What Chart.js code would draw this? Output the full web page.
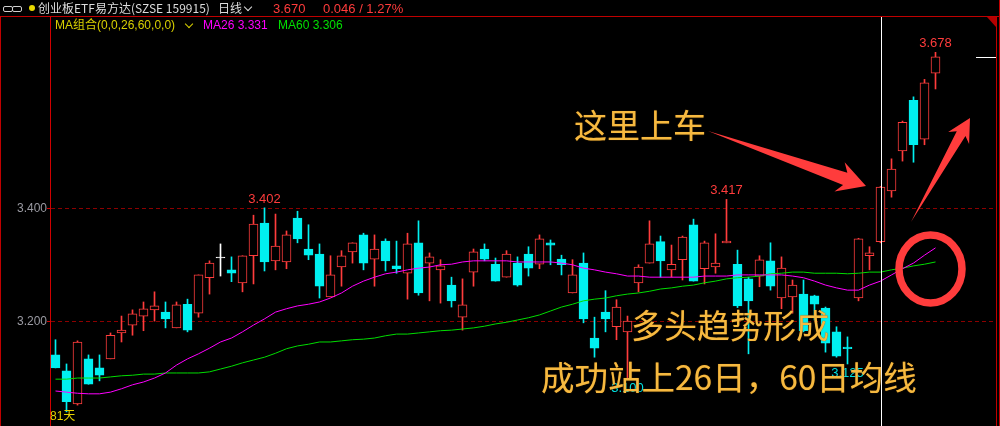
<!DOCTYPE html>
<html><head><meta charset="utf-8">
<script src="https://cdn.jsdelivr.net/npm/chart.js@4/dist/chart.umd.min.js"></script>
<style>
html,body{margin:0;padding:0;background:#000;width:1000px;height:426px;overflow:hidden;}
#wrap{position:relative;width:1000px;height:426px;background:#000;}
#c{position:absolute;left:0;top:0;}
.t{position:absolute;white-space:nowrap;font-family:"Liberation Sans",Arial,"Noto Sans CJK SC",sans-serif;line-height:1;}
.cjk{font-family:"Noto Sans CJK SC","Liberation Sans",sans-serif;}
.big{position:absolute;white-space:nowrap;font-family:"Noto Sans CJK SC",sans-serif;color:#f6b940;line-height:1;text-shadow:0 0 1px #7a4a00;}
.chev{position:absolute;width:5px;height:5px;border-right:1.5px solid;border-bottom:1.5px solid;transform:rotate(45deg);}
</style></head>
<body>
<div id="wrap">
<canvas id="c" width="1000" height="426"></canvas>
<!-- header row 1 -->
<div style="position:absolute;left:3px;top:6px;width:8px;height:4px;border:1px solid #cfcfcf;border-radius:2px;"></div>
<div style="position:absolute;left:12px;top:6px;width:8px;height:4px;border:1px solid #cfcfcf;border-radius:2px;"></div>
<div style="position:absolute;left:29px;top:5px;width:6px;height:6px;border-radius:50%;background:#e8d800;"></div>
<div class="t cjk" style="left:38px;top:2px;font-size:12px;color:#dcdcdc;">创业板ETF易方达(SZSE 159915)</div>
<div class="t cjk" style="left:218px;top:2px;font-size:12px;color:#dcdcdc;">日线</div>
<div class="chev" style="left:245px;top:4px;color:#dcdcdc;"></div>
<div class="t" style="left:273px;top:2px;font-size:13px;color:#ff3c3c;">3.670</div>
<div class="t" style="left:323px;top:2px;font-size:13px;color:#ff3c3c;">0.046 / 1.27%</div>
<!-- header row 2 -->
<div class="t" style="left:55px;top:19px;font-size:12px;color:#d8d000;">MA组合(0,0,26,60,0,0)</div>
<div class="chev" style="left:186px;top:21px;color:#d8d000;"></div>
<div class="t" style="left:203px;top:19px;font-size:12px;color:#ff00ff;">MA26 3.331</div>
<div class="t" style="left:278px;top:19px;font-size:12px;color:#00e000;">MA60 3.306</div>
<div class="t" style="left:50px;top:410px;font-size:12px;color:#e6d200;">81天</div>
<!-- annotations -->
<div class="big" style="left:574px;top:108px;font-size:33px;">这里上车</div>
<div class="big" style="left:631px;top:308px;font-size:33px;">多头趋势形成</div>
<div class="big" style="left:541px;top:359px;font-size:33.5px;">成功站上26日，60日均线</div>
</div>
<script>
// ---- data ----
const opens  = [3.141,3.113,3.054,3.134,3.118,3.134,3.180,3.194,3.210,3.221,
                3.217,3.189,3.231,3.215,3.278,3.313,3.292,3.269,3.317,3.375,
                3.308,3.306,3.384,3.329,3.320,3.244,3.297,3.324,3.354,3.311,
                3.343,3.299,3.286,3.340,3.304,3.292,3.265,3.208,3.288,3.329,
                3.302,3.279,3.304,3.320,3.302,3.340,3.311,3.251,3.304,3.171,
                3.217,3.191,3.182,3.269,3.304,3.342,3.292,3.310,3.372,3.294,
                3.297,3.340,3.302,3.276,3.281,3.308,3.242,3.244,3.249,3.246,
                3.224,3.182,3.155,3.242,3.317,3.342,3.432,3.503,3.593,3.524,
                3.641];
const highs  = [3.168,3.125,3.166,3.141,3.141,3.180,3.210,3.221,3.235,3.253,
                3.235,3.235,3.240,3.283,3.308,3.338,3.315,3.317,3.389,3.402,
                3.391,3.361,3.396,3.372,3.338,3.317,3.326,3.340,3.357,3.354,
                3.347,3.343,3.357,3.379,3.322,3.310,3.279,3.276,3.329,3.338,
                3.313,3.326,3.315,3.333,3.354,3.345,3.318,3.310,3.322,3.208,
                3.255,3.239,3.210,3.301,3.379,3.352,3.336,3.352,3.382,3.343,
                3.356,3.417,3.327,3.279,3.317,3.340,3.315,3.274,3.274,3.247,
                3.226,3.191,3.173,3.348,3.333,3.440,3.489,3.556,3.599,3.630,
                3.678];
const lows   = [3.118,3.040,3.052,3.089,3.095,3.134,3.164,3.176,3.184,3.201,
                3.189,3.189,3.182,3.208,3.249,3.281,3.271,3.253,3.267,3.290,
                3.292,3.294,3.340,3.310,3.242,3.244,3.263,3.304,3.292,3.263,
                3.290,3.286,3.240,3.247,3.237,3.233,3.226,3.185,3.263,3.308,
                3.272,3.279,3.263,3.281,3.294,3.301,3.283,3.251,3.198,3.137,
                3.182,3.168,3.100,3.253,3.304,3.279,3.279,3.274,3.272,3.267,
                3.286,3.340,3.225,3.143,3.262,3.256,3.223,3.215,3.182,3.203,
                3.146,3.137,3.125,3.237,3.292,3.340,3.421,3.485,3.483,3.514,
                3.613];
const closes = [3.118,3.058,3.164,3.089,3.105,3.176,3.185,3.214,3.223,3.228,
                3.205,3.230,3.185,3.283,3.304,3.313,3.286,3.317,3.373,3.306,
                3.334,3.354,3.347,3.318,3.263,3.283,3.317,3.340,3.304,3.329,
                3.308,3.294,3.338,3.251,3.315,3.299,3.237,3.230,3.324,3.311,
                3.272,3.320,3.265,3.295,3.347,3.336,3.301,3.283,3.205,3.153,
                3.205,3.226,3.201,3.297,3.338,3.308,3.302,3.350,3.272,3.340,
                3.304,3.343,3.228,3.237,3.310,3.263,3.295,3.265,3.184,3.231,
                3.162,3.139,3.152,3.347,3.322,3.439,3.471,3.554,3.514,3.624,
                3.670];
const ma26 = [3.077,3.075,3.073,3.072,3.072,3.075,3.081,3.088,3.093,3.100,
              3.109,3.123,3.134,3.143,3.153,3.164,3.171,3.182,3.194,3.205,
              3.217,3.223,3.228,3.231,3.235,3.242,3.251,3.263,3.272,3.279,
              3.285,3.288,3.292,3.295,3.297,3.301,3.302,3.306,3.308,3.308,
              3.308,3.308,3.306,3.306,3.306,3.306,3.304,3.301,3.295,3.292,
              3.288,3.285,3.281,3.281,3.279,3.279,3.279,3.279,3.279,3.281,
              3.281,3.281,3.283,3.283,3.283,3.283,3.283,3.281,3.278,3.272,
              3.265,3.260,3.256,3.256,3.265,3.272,3.283,3.294,3.304,3.318,
              3.331];
const ma60 = [3.098,3.098,3.100,3.100,3.100,3.102,3.104,3.105,3.107,3.107,
              3.109,3.109,3.109,3.109,3.111,3.116,3.121,3.127,3.132,3.137,
              3.144,3.152,3.157,3.160,3.164,3.164,3.166,3.168,3.169,3.171,
              3.175,3.178,3.178,3.180,3.182,3.184,3.185,3.187,3.189,3.192,
              3.196,3.199,3.203,3.207,3.212,3.219,3.226,3.231,3.237,3.240,
              3.242,3.246,3.249,3.251,3.254,3.258,3.260,3.263,3.265,3.269,
              3.272,3.276,3.278,3.279,3.281,3.285,3.286,3.288,3.288,3.286,
              3.286,3.286,3.285,3.286,3.288,3.288,3.292,3.295,3.299,3.302,
              3.306];
const yTicks = [3.2, 3.4];
const highMarks = [19, 61, 80];
const lowMarks = [52, 72];
const crossIndex = 75;
const slotsShown = 86;   // 81 trading days + empty room on the right
const yMin = 3.0149, yMax = 3.7407;

// ---- styling ----
const UP = '#ff3c3c', DOWN = '#00f0f0', FLAT = '#ffffff';
const colorOf = i => closes[i] > opens[i] ? UP : (closes[i] < opens[i] ? DOWN : FLAT);
const idx = closes.map((_, i) => i);

const wickData = idx.map(i => ({x: i, y: [lows[i], highs[i]]}));
const bodyData = idx.map(i => ({x: i, y: [opens[i], closes[i]]}));
const candleColors = idx.map(colorOf);
const bodyFill = idx.map(i => closes[i] > opens[i] ? '#000000' : colorOf(i));

const overlay = {
  id: 'overlay',
  afterDatasetsDraw(chart) {
    const {ctx, chartArea: a, scales: {x, y}} = chart;
    ctx.save();
    // crosshair
    const cx = Math.round(x.getPixelForValue(crossIndex)) + 0.5;
    ctx.strokeStyle = '#ffffff'; ctx.lineWidth = 1;
    ctx.beginPath(); ctx.moveTo(cx, a.top); ctx.lineTo(cx, a.bottom); ctx.stroke();
    // last price marker
    const py = Math.round(y.getPixelForValue(closes[closes.length - 1])) + 0.5;
    ctx.beginPath(); ctx.moveTo(a.right - 20, py); ctx.lineTo(a.right, py); ctx.stroke();
    // high / low labels
    ctx.font = '13px "Liberation Sans", Arial, sans-serif';
    ctx.textAlign = 'center'; ctx.textBaseline = 'alphabetic';
    ctx.fillStyle = '#ff3c3c';
    highMarks.forEach(i => ctx.fillText(highs[i].toFixed(3), x.getPixelForValue(i), y.getPixelForValue(highs[i]) - 5));
    ctx.fillStyle = '#00e0e0';
    lowMarks.forEach(i => ctx.fillText(lows[i].toFixed(3), x.getPixelForValue(i), y.getPixelForValue(lows[i]) + 13.5));
    ctx.restore();
  },
  afterDraw(chart) {
    const {ctx, chartArea: a} = chart;
    ctx.save();
    // frame lines
    ctx.strokeStyle = '#c00000'; ctx.lineWidth = 1;
    ctx.beginPath();
    ctx.moveTo(0, 16.5); ctx.lineTo(1000, 16.5);
    ctx.moveTo(0.5, 17); ctx.lineTo(0.5, 426);
    ctx.moveTo(a.right + 0.5, 17); ctx.lineTo(a.right + 0.5, 426);
    ctx.moveTo(999.5, 0); ctx.lineTo(999.5, 426);
    ctx.stroke();
    ctx.fillStyle = '#b40000';
    ctx.beginPath(); ctx.moveTo(a.right - 9, 17); ctx.lineTo(a.right, 17); ctx.lineTo(a.right, 27); ctx.closePath(); ctx.fill();
    // annotation arrows and ring
    const red = '#ff3c3c';
    function arrow(tx, ty, px, py, headBack, headHalf, neckBack, neckHalf) {
      const dx = px - tx, dy = py - ty, L = Math.hypot(dx, dy);
      const ux = dx / L, uy = dy / L, nx = -uy, ny = ux;
      const pt = (s, o) => [tx + ux * s + nx * o, ty + uy * s + ny * o];
      const pts = [[tx, ty], pt(L - neckBack, neckHalf), pt(L - headBack, headHalf), [px, py],
                   pt(L - headBack, -headHalf), pt(L - neckBack, -neckHalf)];
      ctx.beginPath(); ctx.moveTo(pts[0][0], pts[0][1]);
      pts.slice(1).forEach(p => ctx.lineTo(p[0], p[1]));
      ctx.closePath(); ctx.fillStyle = red; ctx.fill();
    }
    arrow(708, 131, 866, 186, 28, 15.5, 22, 6.5);
    arrow(911, 222, 970, 118, 23, 12, 18, 5);
    ctx.strokeStyle = red; ctx.lineWidth = 7.5;
    ctx.beginPath(); ctx.ellipse(930.5, 269, 31.5, 34, 0, 0, Math.PI * 2); ctx.stroke();
    ctx.restore();
  }
};

new Chart(document.getElementById('c'), {
  type: 'bar',
  data: {
    datasets: [
      {type: 'line', data: idx.map(i => ({x: i, y: ma26[i]})), borderColor: '#ff00ff', borderWidth: 1,
       pointRadius: 0, tension: 0, order: 0},
      {type: 'line', data: idx.map(i => ({x: i, y: ma60[i]})), borderColor: '#00dd00', borderWidth: 1,
       pointRadius: 0, tension: 0, order: 0},
      {data: bodyData, backgroundColor: bodyFill, borderColor: candleColors, borderWidth: 1,
       borderSkipped: false, barThickness: 9, minBarLength: 1, grouped: false, order: 1},
      {data: wickData, backgroundColor: candleColors, borderWidth: 0,
       barThickness: 1, grouped: false, order: 2}
    ]
  },
  options: {
    responsive: false, animation: false,
    layout: {autoPadding: false, padding: {left: 0, right: 4, top: 17, bottom: 0}},
    plugins: {legend: {display: false}, tooltip: {enabled: false}},
    scales: {
      x: {type: 'linear', display: false, offset: false, min: -0.5, max: slotsShown - 0.5,
          grid: {display: false}},
      y: {type: 'linear', min: yMin, max: yMax, beginAtZero: false,
          afterFit: s => { s.width = 50; s.paddingTop = 0; s.paddingBottom = 0; },
          afterBuildTicks: s => { s.ticks = yTicks.map(v => ({value: v})); },
          ticks: {color: '#9a9aa2', padding: 0, font: {family: '"Liberation Sans", Arial, sans-serif', size: 12},
                  callback: v => Number(v).toFixed(3)},
          grid: {color: '#8c0000', lineWidth: 1, drawTicks: true, tickLength: 3, tickColor: '#d00000'},
          border: {display: true, color: '#d00000', width: 1, dash: [4, 3]}}
    }
  },
  plugins: [overlay]
});
</script>
</body></html>
